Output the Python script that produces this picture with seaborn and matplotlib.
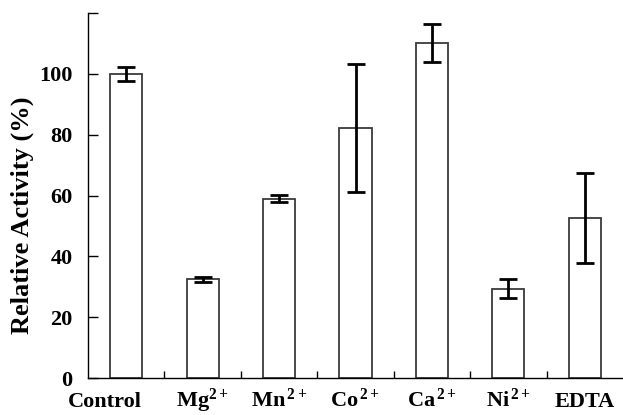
import matplotlib
matplotlib.use("Agg")
import matplotlib.pyplot as plt
import matplotlib.transforms as mtransforms
import seaborn as sns
import pandas as pd
import numpy as np

categories = ["Control", "Mg$^{2+}$", "Mn$^{\\,2+}$", "Co$^{\\,2+}$", "Ca$^{\\,2+}$", "Ni$^{\\,2+}$", "EDTA"]
activity = [100.0, 32.4, 59.0, 82.3, 110.2, 29.4, 52.5]
errors = [2.3, 0.9, 1.2, 21.0, 6.2, 3.0, 14.8]
ytick_vals = [0, 20, 40, 60, 80, 100, 120]
ytick_labels = ["0", "20", "40", "60", "80", "100", ""]

sns.set_style("white")
plt.rcParams["font.family"] = ["Liberation Serif", "DejaVu Serif"]
plt.rcParams["font.weight"] = "bold"
plt.rcParams["text.color"] = "black"
plt.rcParams["axes.labelcolor"] = "black"
plt.rcParams["xtick.color"] = "black"
plt.rcParams["ytick.color"] = "black"
plt.rcParams["mathtext.fontset"] = "custom"
plt.rcParams["mathtext.rm"] = "Liberation Serif:bold"
plt.rcParams["mathtext.it"] = "Liberation Serif:bold"
plt.rcParams["mathtext.bf"] = "Liberation Serif:bold"
plt.rcParams["mathtext.default"] = "rm"

df = pd.DataFrame({"cat": categories, "val": activity})

fig = plt.figure(figsize=(6.23, 4.15), dpi=100)
ax = fig.add_axes([88 / 623, 37 / 415, 1 - 88 / 623, (378 - 13) / 415])

sns.barplot(data=df, x="cat", y="val", order=categories, color="white",
            edgecolor="#3a3a3a", linewidth=1.3, width=0.42, errorbar=None, ax=ax)
ax.errorbar(np.arange(len(categories)), activity, yerr=errors, fmt="none",
            ecolor="black", elinewidth=2.0, capsize=6.2, capthick=2.0, zorder=5)

ax.set_xlim(-0.5, 6.5)
ax.set_ylim(0, 120)
ax.set_yticks(ytick_vals)
ax.set_yticklabels(ytick_labels, fontsize=16, fontweight="bold", color="black")
ax.set_xticks(np.arange(len(categories)))
ax.set_xticklabels(categories, fontsize=16, fontweight="bold", color="black")
ax.set_xticks(np.arange(len(categories) - 1) + 0.5, minor=True)
ax.tick_params(axis="x", which="major", length=0, pad=21)
ax.tick_params(axis="x", which="minor", direction="in", length=5, width=1, color="black", bottom=True)
ax.tick_params(axis="y", which="major", direction="in", length=7, width=1, color="black", pad=11, left=True)

ax.set_xlabel("")
ax.set_ylabel("Relative Activity (%)", fontsize=19, fontweight="bold", color="black")
ax.yaxis.set_label_coords(-0.10, 0.447)

for s in ["top", "right"]:
    ax.spines[s].set_visible(False)
for s in ["left", "bottom"]:
    ax.spines[s].set_color("black")
    ax.spines[s].set_linewidth(1.0)

labels = ax.get_xticklabels()
for lab in labels:
    lab.set_verticalalignment("baseline")
offset = mtransforms.ScaledTranslation(-21 / 100, 0, fig.dpi_scale_trans)
labels[0].set_transform(labels[0].get_transform() + offset)

fig.savefig("out.png", dpi=100)
